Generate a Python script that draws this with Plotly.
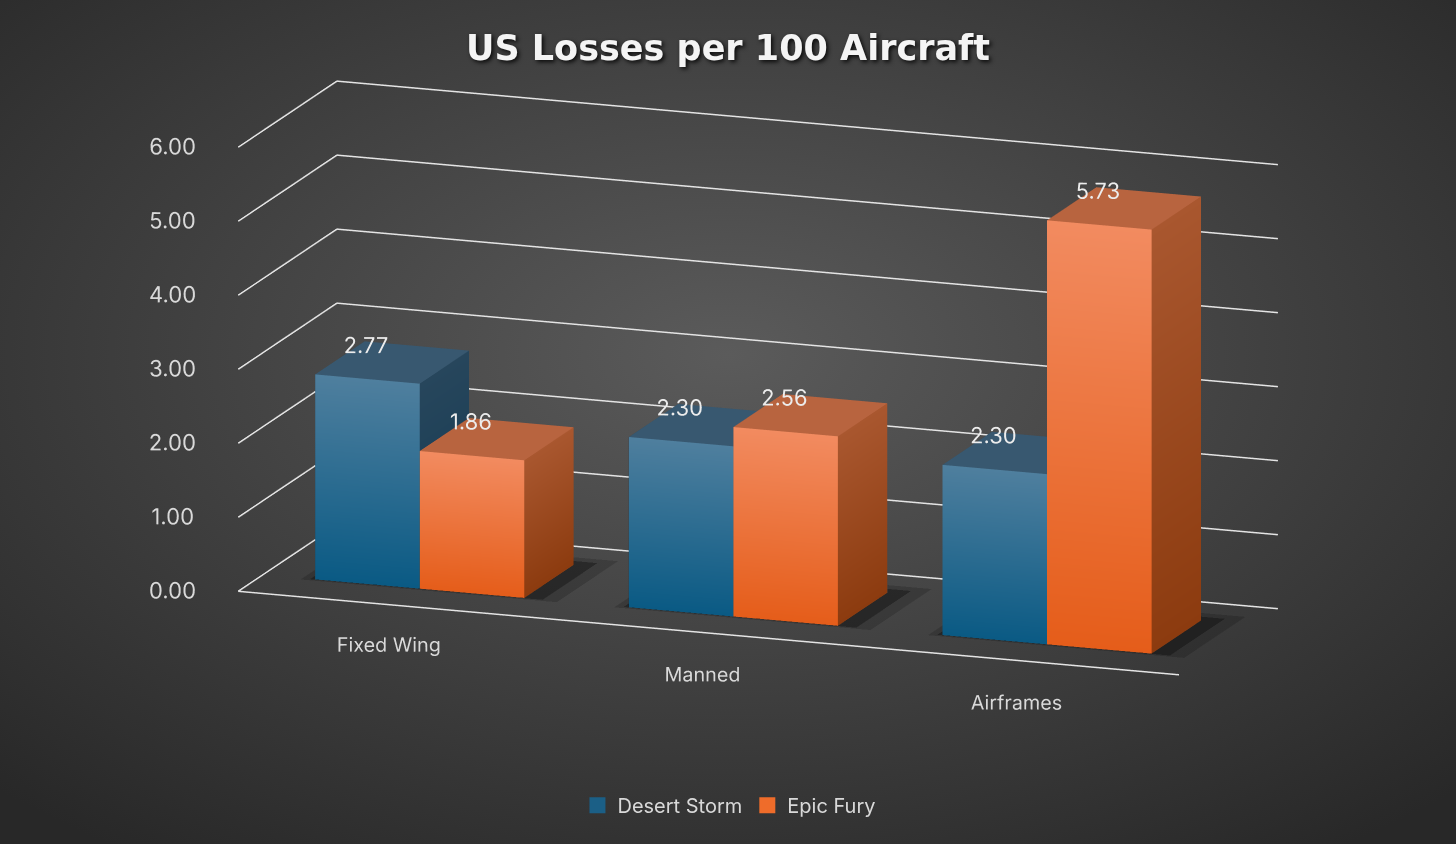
import base64
import plotly.graph_objects as go

# ---------------- data ----------------
categories = ["Fixed Wing", "Manned", "Airframes"]
series_names = ["Desert Storm", "Epic Fury"]
desert_storm = [2.77, 2.30, 2.30]
epic_fury = [1.86, 2.56, 5.73]
z_ticks = [0, 1, 2, 3, 4, 5, 6]

# ---------------- styles ----------------
PAL = {
    "Desert Storm": dict(ft="#4f7f9e", fb="#0a5a84", top="#385870", st="#27465c", sb="#143a52", legend="#1b5f86"),
    "Epic Fury": dict(ft="#f28b60", fb="#e55d1a", top="#b8643f", st="#a9572f", sb="#8c3b0f", legend="#ef6c2a"),
}
BAR_W = 1 / 3.0          # bar width as a fraction of one category
DEPTH = (0.25, 0.75)     # bar depth span inside the floor
LABEL_DEPTH = 0.3
LABEL_DX = -0.02
TXT = "#d9d9d9"
FONT = "Inter"
GRID = "#e4e4e4"
X_PAD = 0.19             # invisible room left of the wall for the value labels
Z_PAD = 0.5              # invisible room under the floor for the category labels


def box_mesh(x0, x1, y0, y1, h, pal):
    X, Y, Z, C, I, J, K = [], [], [], [], [], [], []

    def quad(pts, cols):
        n = len(X)
        for (px, py, pz), c in zip(pts, cols):
            X.append(px); Y.append(py); Z.append(pz); C.append(c)
        I.extend([n, n]); J.extend([n + 1, n + 2]); K.extend([n + 2, n + 3])

    quad([(x0, y0, 0), (x1, y0, 0), (x1, y0, h), (x0, y0, h)], [pal["fb"], pal["fb"], pal["ft"], pal["ft"]])
    quad([(x0, y0, h), (x1, y0, h), (x1, y1, h), (x0, y1, h)], [pal["top"]] * 4)
    quad([(x1, y0, 0), (x1, y1, 0), (x1, y1, h), (x1, y0, h)], [pal["sb"], pal["sb"], pal["st"], pal["st"]])
    quad([(x0, y0, 0), (x0, y1, 0), (x0, y1, h), (x0, y0, h)], [pal["sb"], pal["sb"], pal["st"], pal["st"]])
    quad([(x0, y1, 0), (x1, y1, 0), (x1, y1, h), (x0, y1, h)], [pal["sb"], pal["sb"], pal["st"], pal["st"]])
    quad([(x0, y0, 0), (x1, y0, 0), (x1, y1, 0), (x0, y1, 0)], [pal["sb"]] * 4)
    return go.Mesh3d(
        x=X, y=Y, z=Z, i=I, j=J, k=K, vertexcolor=C, flatshading=False,
        lighting=dict(ambient=1.0, diffuse=0.0, specular=0.0, roughness=1.0, fresnel=0.0),
        hoverinfo="skip", showlegend=False, showscale=False,
    )


def floor_shadow(x0, x1, y0, y1, opacity):
    return go.Mesh3d(
        x=[x0, x1, x1, x0], y=[y0, y0, y1, y1], z=[0.002] * 4, i=[0, 0], j=[1, 2], k=[2, 3],
        color="#000000", opacity=opacity, flatshading=True,
        lighting=dict(ambient=1.0, diffuse=0.0, specular=0.0, roughness=1.0, fresnel=0.0),
        hoverinfo="skip", showlegend=False, showscale=False,
    )


fig = go.Figure()
ncat = len(categories)

# wall grid lines (left wall + back wall) and front floor edge
for t in z_ticks:
    fig.add_trace(go.Scatter3d(x=[0, 0, ncat], y=[0, 1, 1], z=[t, t, t], mode="lines",
                               line=dict(color=GRID, width=3), hoverinfo="skip", showlegend=False))
fig.add_trace(go.Scatter3d(x=[0, ncat], y=[0, 0], z=[0, 0], mode="lines",
                           line=dict(color=GRID, width=3), hoverinfo="skip", showlegend=False))

# soft shadows under each cluster
for c_idx in range(ncat):
    xl, xr = c_idx + 0.5 - BAR_W, c_idx + 0.5 + BAR_W
    fig.add_trace(floor_shadow(xl - 0.04, xr + 0.11, DEPTH[0] - 0.02, DEPTH[1] + 0.10, 0.16))
    fig.add_trace(floor_shadow(xl - 0.015, xr + 0.06, DEPTH[0] - 0.005, DEPTH[1] + 0.05, 0.32))

series = [desert_storm, epic_fury]
for s_idx, (name, vals) in enumerate(zip(series_names, series)):
    pal = PAL[name]
    for c_idx, v in enumerate(vals):
        xc = c_idx + 0.5
        x0 = xc - BAR_W + s_idx * BAR_W
        x1 = x0 + BAR_W
        fig.add_trace(box_mesh(x0, x1, DEPTH[0], DEPTH[1], v, pal))
    # data labels
    fig.add_trace(go.Scatter3d(
        x=[c + 0.5 - BAR_W / 2 + s_idx * BAR_W + LABEL_DX for c in range(len(vals))],
        y=[LABEL_DEPTH] * len(vals),
        z=vals,
        mode="text", text=[f"{v:.2f}" for v in vals], textposition="top center",
        textfont=dict(family=FONT, size=22, color="#ececec"),
        hoverinfo="skip", showlegend=False,
    ))
    # legend entry
    fig.add_trace(go.Scatter3d(
        x=[None], y=[None], z=[None], mode="markers", name=name,
        marker=dict(symbol="square", size=16, color=pal["legend"]),
        hoverinfo="skip", showlegend=True,
    ))

# background radial gradient
svg = ('<svg xmlns="http://www.w3.org/2000/svg" width="1456" height="844">'
       '<defs><radialGradient id="g" cx="50%" cy="42%" r="72%">'
       '<stop offset="0" stop-color="#5b5b5b"/><stop offset="1" stop-color="#282828"/>'
       '</radialGradient></defs><rect width="1456" height="844" fill="url(#g)"/></svg>')
bg_src = "data:image/svg+xml;base64," + base64.b64encode(svg.encode()).decode()

axis_common = dict(showbackground=False, zeroline=False, showspikes=False, showgrid=False,
                   showline=False, title=dict(text=""))

# camera (orthographic), normalized scene units
dist = 2.0
edir = (0.332, -0.912, 0.244)
center = dict(x=0.0169, y=-0.0482, z=-0.0560)
eye = dict(x=center["x"] + dist * edir[0], y=center["y"] + dist * edir[1], z=center["z"] + dist * edir[2])

fig.update_layout(
    width=1456, height=844,
    margin=dict(l=0, r=0, t=0, b=0),
    paper_bgcolor="#404040",
    images=[dict(source=bg_src, xref="paper", yref="paper", x=0, y=1, sizex=1, sizey=1,
                 sizing="stretch", layer="below", xanchor="left", yanchor="top")],
    title=dict(text="US Losses per 100 Aircraft", x=0.5, xanchor="center", y=0.943, yanchor="middle",
               font=dict(family="DejaVu Sans", size=35, color="#f4f4f4", weight=700,
                         shadow="2px 2px 4px rgba(0,0,0,0.85)")),
    legend=dict(orientation="h", x=0.501, xanchor="center", y=0.046, yanchor="middle",
                font=dict(family=FONT, size=20, color=TXT), bgcolor="rgba(0,0,0,0)"),
    hovermode=False,
    scene=dict(
        domain=dict(x=[0, 1], y=[0, 1]),
        aspectmode="manual", aspectratio=dict(x=2.5233, y=0.684, z=1.1754),
        bgcolor="rgba(0,0,0,0)",
        camera=dict(eye=eye, center=center, up=dict(x=0, y=0, z=1),
                    projection=dict(type="orthographic")),
        xaxis=dict(range=[-X_PAD, ncat], tickvals=[i + 0.5 for i in range(ncat)], ticktext=categories,
                   ticks="", tickangle=0, tickfont=dict(family=FONT, size=15.4, color=TXT), **axis_common),
        yaxis=dict(range=[0, 1], showticklabels=False, ticks="", **axis_common),
        zaxis=dict(range=[-Z_PAD, 6], tickvals=z_ticks, tickformat=".2f", ticks="", tickangle=0,
                   tickfont=dict(family=FONT, size=16.3, color=TXT), **axis_common),
    ),
)

fig.write_html("out.html", config={"displayModeBar": False})
with open("out.html", "r", encoding="utf-8") as fh:
    html = fh.read()
html = html.replace("<head>", "<head><style>html,body{margin:0;padding:0;overflow:hidden;}</style>", 1)
with open("out.html", "w", encoding="utf-8") as fh:
    fh.write(html)
